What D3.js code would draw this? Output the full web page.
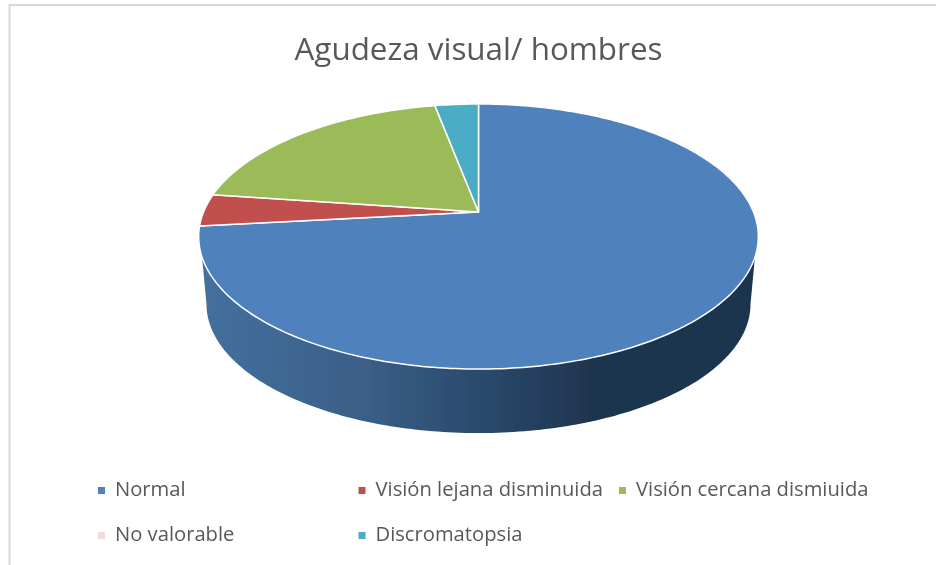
<!DOCTYPE html>
<html>
<head>
<meta charset="utf-8">
<script src="https://d3js.org/d3.v7.min.js"></script>
<style>
html, body { margin: 0; padding: 0; background: #fff; }
text { font-family: "Open Sans", sans-serif; }
</style>
</head>
<body>
<svg id="chart" width="936" height="565"></svg>
<script>
var titleText = "Agudeza visual/ hombres";
var categories = ["Normal", "Visión lejana disminuida", "Visión cercana dismiuida", "No valorable", "Discromatopsia"];
var values = [73.3, 3.9, 19.8, 0, 3.0];
var colors = ["#4f81bd", "#c0504d", "#9bbb59", "#f2dcdb", "#4bacc6"];

var svg = d3.select("#chart");
var width = 936, height = 565;

// blur, the reference is a scaled screenshot
var defs = svg.append("defs");
defs.append("filter").attr("id", "soft")
    .attr("filterUnits", "userSpaceOnUse")
    .attr("x", 0).attr("y", 0).attr("width", width).attr("height", height)
    .append("feGaussianBlur").attr("stdDeviation", 0.6);

// chart frame, only left and top edges are visible
svg.append("path")
    .attr("d", "M9.5," + height + "V5H" + width)
    .attr("fill", "none")
    .attr("stroke", "#d9d9d9")
    .attr("stroke-width", 2);

var root = svg.append("g").attr("filter", "url(#soft)");

// perspective of the tilted disc
var apex = [478.5, 212], radius = 275, persp = 0.185, tilt = 128;
var depth = 68.4, bottomScale = 0.972;

function project(angle, drop, scale) {
    var x = Math.sin(angle), y = Math.cos(angle), w = 1 + persp * y;
    return [apex[0] + radius * scale * x / w, apex[1] - tilt * scale * y / w + drop];
}

function rim(a0, a1, drop, scale) {
    var n = Math.max(2, Math.ceil(Math.abs(a1 - a0) * 60));
    return d3.range(n + 1).map(function (i) {
        return project(a0 + (a1 - a0) * i / n, drop, scale);
    });
}

var line = d3.line();
var arcs = d3.pie().sort(null)(values);

// side wall, top and bottom rims have different ends because the disc narrows
var rad = Math.PI / 180;
var wallTop = rim(109.3 * rad, 250.7 * rad, 0, 1);
var wallBottom = rim(259.3 * rad, 100.7 * rad, depth, bottomScale);

var grad = defs.append("linearGradient")
    .attr("id", "wall")
    .attr("gradientUnits", "userSpaceOnUse")
    .attr("x1", 200).attr("x2", 755).attr("y1", 0).attr("y2", 0);
grad.append("stop").attr("offset", "0").attr("stop-color", "#44709f");
grad.append("stop").attr("offset", "0.3").attr("stop-color", "#3a5e87");
grad.append("stop").attr("offset", "0.5").attr("stop-color", "#2b4a6d");
grad.append("stop").attr("offset", "0.7").attr("stop-color", "#1f3550");
grad.append("stop").attr("offset", "1").attr("stop-color", "#1f3550");

root.append("path")
    .attr("d", line(wallTop.concat(wallBottom)) + "Z")
    .attr("fill", "url(#wall)");

// top face slices
root.selectAll("path.slice")
    .data(arcs.filter(function (d) { return d.value > 0; }))
    .enter().append("path")
    .attr("class", "slice")
    .attr("d", function (d) {
        return line([apex].concat(rim(d.startAngle, d.endAngle, 0, 1))) + "Z";
    })
    .attr("fill", function (d) { return colors[d.index]; })
    .attr("stroke", "#fff")
    .attr("stroke-width", 1.5)
    .attr("stroke-linejoin", "round");

root.append("text")
    .attr("x", 478.5).attr("y", 60)
    .attr("text-anchor", "middle")
    .attr("font-size", 31.4)
    .attr("fill", "#595959")
    .text(titleText);

// legend, two rows
var legendX = d3.scalePoint().domain([0, 1, 2]).range([115, 636]);
var legendY = d3.scalePoint().domain([0, 1]).range([489, 534]);

var legend = root.selectAll("g.item")
    .data(categories)
    .enter().append("g")
    .attr("class", "item")
    .attr("transform", function (d, i) {
        return "translate(" + legendX(i % 3) + "," + legendY(Math.floor(i / 3)) + ")";
    });

legend.append("rect")
    .attr("x", -17).attr("y", -2)
    .attr("width", 7).attr("height", 7)
    .attr("fill", function (d, i) { return colors[i]; });

legend.append("text")
    .attr("y", 7)
    .attr("font-size", 20.2)
    .attr("fill", "#595959")
    .text(function (d) { return d; });
</script>
</body>
</html>
